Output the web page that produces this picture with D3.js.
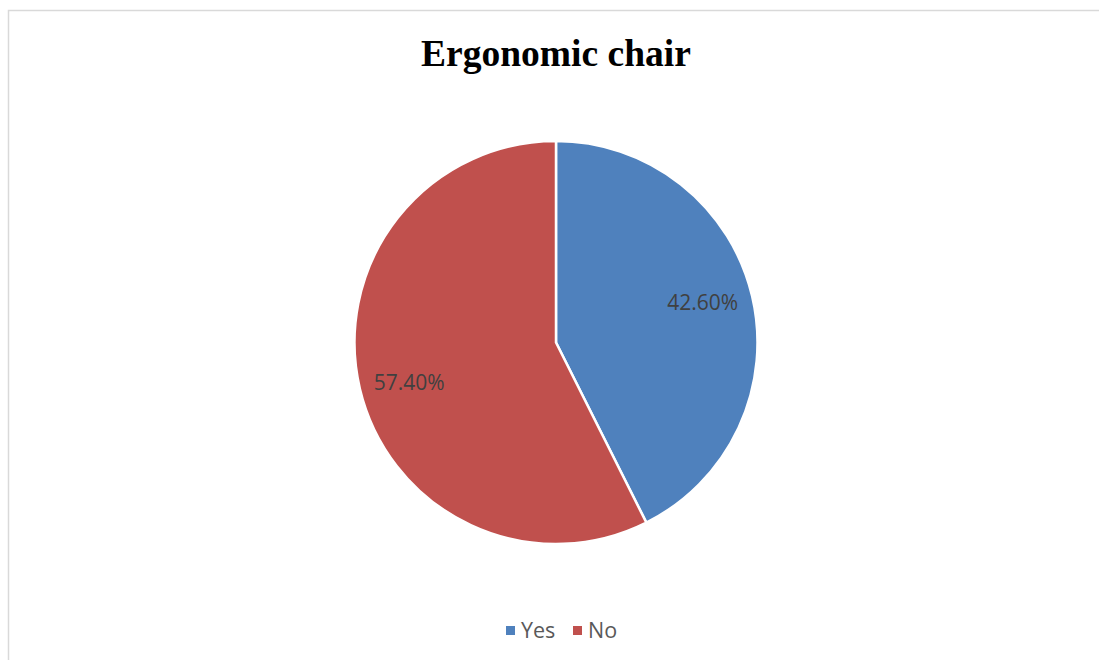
<!DOCTYPE html>
<html>
<head>
<meta charset="utf-8">
<script src="https://cdn.jsdelivr.net/npm/d3@7"></script>
<style>
  html, body { margin: 0; padding: 0; background: #fff; }
  svg { display: block; }
</style>
</head>
<body>
<svg id="chart" width="1099" height="660"></svg>
<script>
// Survey answers for the ergonomic chair question
const categories = ["Yes", "No"];
const values = [42.6, 57.4];
const colors = ["#4f81bd", "#c0504d"];
const labels = ["42.60%", "57.40%"];

const svg = d3.select("#chart");
const W = 1099, H = 660;

// chart frame
svg.append("rect")
  .attr("x", 8.5).attr("y", 10.5)
  .attr("width", W + 10).attr("height", H + 10)
  .attr("fill", "#fff")
  .attr("stroke", "#d9d9d9").attr("stroke-width", 1.5);

// title
svg.append("text")
  .attr("x", 556).attr("y", 66)
  .attr("text-anchor", "middle")
  .attr("font-family", "'Liberation Serif', 'Times New Roman', serif")
  .attr("font-weight", "bold")
  .attr("font-size", 37.5)
  .attr("fill", "#000")
  .text("Ergonomic chair");

const cx = 556, cy = 342.5, r = 201.5;

const data = categories.map((c, i) => ({ category: c, value: values[i], label: labels[i] }));
const pie = d3.pie().value(d => d.value).sort(null);
const arc = d3.arc().innerRadius(0).outerRadius(r);
const color = d3.scaleOrdinal().domain(categories).range(colors);

const g = svg.append("g").attr("transform", `translate(${cx},${cy})`);
const arcs = pie(data);

g.selectAll("path.slice")
  .data(arcs)
  .enter().append("path")
  .attr("class", "slice")
  .attr("d", arc)
  .attr("fill", d => color(d.data.category))
  .attr("stroke", "#fff")
  .attr("stroke-width", 2.5)
  .attr("stroke-linejoin", "round");

// value labels sit inside each slice, slightly ahead of the mid-angle
const labelPos = d => d3.pointRadial((d.startAngle + d.endAngle) / 2 - 0.035, r * 0.755);

g.selectAll("text.value")
  .data(arcs)
  .enter().append("text")
  .attr("class", "value")
  .attr("transform", d => `translate(${labelPos(d)})`)
  .attr("text-anchor", "middle")
  .attr("dy", "0.36em")
  .attr("font-family", "'Open Sans', 'Liberation Sans', sans-serif")
  .attr("font-size", 21)
  .attr("fill", "#404040")
  .text(d => d.data.label);

// legend
const legend = svg.append("g").attr("transform", "translate(0,630.5)");
const legendX = [506, 573];
const item = legend.selectAll("g.item")
  .data(categories)
  .enter().append("g")
  .attr("class", "item")
  .attr("transform", (d, i) => `translate(${legendX[i]},0)`);
item.append("rect")
  .attr("x", 0).attr("y", -4.5)
  .attr("width", 9).attr("height", 9)
  .attr("fill", d => color(d));
item.append("text")
  .attr("x", 15).attr("y", 0)
  .attr("dy", "0.36em")
  .attr("font-family", "'Open Sans', 'Liberation Sans', sans-serif")
  .attr("font-size", 21.5)
  .attr("fill", "#595959")
  .text(d => d);
</script>
</body>
</html>
